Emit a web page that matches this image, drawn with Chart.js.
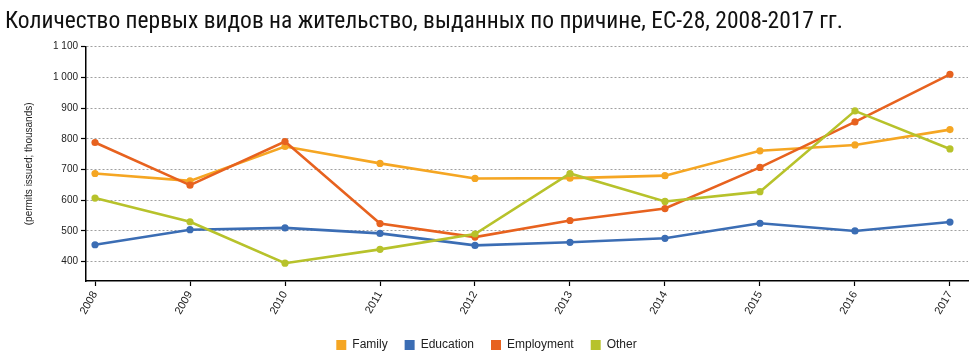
<!DOCTYPE html>
<html><head><meta charset="utf-8">
<script src="https://cdn.jsdelivr.net/npm/chart.js@4/dist/chart.umd.min.js"></script>
<style>html,body{margin:0;padding:0;background:#fff;overflow:hidden}#wrap{width:976px;height:356px;position:relative}</style>
</head><body><div id="wrap"><canvas id="c" width="976" height="356"></canvas></div>
<script>
const years = [2008, 2009, 2010, 2011, 2012, 2013, 2014, 2015, 2016, 2017];
const family = [687, 663, 775, 720, 671, 672, 680, 761, 780, 830];
const education = [455, 504, 510, 492, 453, 463, 476, 525, 500, 529];
const employment = [788, 649, 791, 524, 480, 534, 573, 707, 855, 1010];
const other = [607, 530, 395, 440, 490, 687, 596, 628, 891, 767];
const yTicks = [400, 500, 600, 700, 800, 900, 1000, 1100];
const yTickLabels = ['400', '500', '600', '700', '800', '900', '1 000', '1 100'];
const seriesNames = ['Family', 'Education', 'Employment', 'Other'];
const seriesColors = ['#f5a623', '#3b6db4', '#e7621f', '#b7c22b'];
const seriesData = [family, education, employment, other];

const datasets = seriesData.map((vals, i) => ({
  label: seriesNames[i],
  data: years.map((y, j) => ({x: y, y: vals[j]})),
  borderColor: seriesColors[i],
  backgroundColor: seriesColors[i],
  pointBackgroundColor: seriesColors[i],
  pointBorderWidth: 0,
  pointRadius: 3.6,
  borderWidth: 2.6,
  tension: 0,
  order: 4 - i
}));

new Chart(document.getElementById('c'), {
  type: 'line',
  data: {datasets},
  options: {
    responsive: false,
    animation: false,
    devicePixelRatio: 1,
    layout: {padding: {left: 5, right: 8, top: 0, bottom: -5}},
    plugins: {
      title: {
        display: true,
        text: 'Количество первых видов на жительство, выданных по причине, ЕС-28, 2008-2017 гг.',
        align: 'start',
        color: '#111',
        font: {family: '"Liberation Sans Narrow", "Roboto Condensed", Roboto, sans-serif', size: 23.5, weight: 'normal'},
        padding: {top: 8, bottom: 10.5}
      },
      legend: {
        position: 'bottom',
        labels: {
          boxWidth: 10, boxHeight: 10, padding: 17, color: '#222',
          font: {family: 'Arial, "Liberation Sans", sans-serif', size: 12},
          sort: (a, b) => a.datasetIndex - b.datasetIndex,
          generateLabels: (chart) => Chart.defaults.plugins.legend.labels.generateLabels(chart).map(l => Object.assign(l, {lineWidth: 0}))
        }
      },
      tooltip: {enabled: false}
    },
    scales: {
      x: {
        type: 'linear',
        min: 2007.905,
        max: 2017.19,
        afterBuildTicks: (s) => { s.ticks = years.map(v => ({value: v})); },
        afterFit: (s) => { s.height = 41; },
        ticks: {
          callback: (v) => String(v),
          minRotation: 60, maxRotation: 60,
          color: '#222',
          font: {family: 'Arial, "Liberation Sans", sans-serif', size: 11},
          padding: 3
        },
        grid: {drawOnChartArea: false, tickLength: 5, tickColor: '#000', tickWidth: 1.2},
        border: {color: '#000', width: 1.5}
      },
      y: {
        min: 337,
        max: 1100,
        afterBuildTicks: (s) => { s.ticks = yTicks.map(v => ({value: v})); },
        afterFit: (s) => { s.width = 81; },
        ticks: {
          callback: (v) => yTickLabels[yTicks.indexOf(v)],
          color: '#222',
          font: {family: 'Arial, "Liberation Sans", sans-serif', size: 10},
          padding: 3
        },
        title: {
          display: true,
          text: '(permits issued; thousands)',
          color: '#222',
          font: {family: 'Arial, "Liberation Sans", sans-serif', size: 10},
          padding: {top: 18, bottom: 0}
        },
        grid: {color: '#a0a0a0', lineWidth: 1, tickLength: 5, tickColor: '#000', tickWidth: 1.2},
        border: {color: '#000', width: 1.5, dash: [2, 2]}
      }
    }
  }
});
</script></body></html>
